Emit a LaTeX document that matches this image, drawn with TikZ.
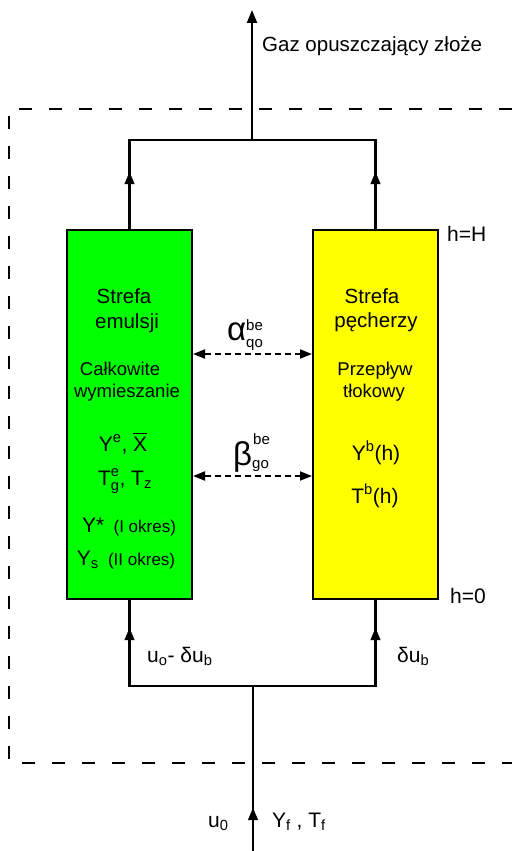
\documentclass[tikz,border=0pt]{standalone}
\usepackage{fontspec}
\usepackage{amsmath}
\setmainfont{Liberation Sans}
\usetikzlibrary{arrows.meta,decorations.markings}
\definecolor{emgreen}{RGB}{0,255,0}
\definecolor{bubyellow}{RGB}{255,255,0}
\begin{document}
\begin{tikzpicture}[x=1pt,y=-1pt,
  zone/.style={draw=black, line width=2pt, minimum width=125pt, minimum height=369pt, inner sep=0pt},
  flow/.style={line width=2.2pt, line join=miter},
  tipA/.style={-{Triangle[length=13pt,width=10pt]}},
  midtip/.style={postaction={decorate}, decoration={markings, mark=at position #1 with {\arrow{Triangle[length=12pt,width=10pt]}}}},
  xchg/.style={line width=1.8pt, dash pattern=on 6pt off 4pt, {Triangle[length=12pt,width=9pt]}-{Triangle[length=12pt,width=9pt]}},
  framed/.style={line width=1.5pt, dash pattern=on 13pt off 17pt},
  lbl/.style={anchor=base, inner sep=0pt, font=\fontsize{21}{24}\selectfont},
  zname/.style={anchor=base, inner sep=0pt, font=\fontsize{20.5}{24}\selectfont},
  zdesc/.style={anchor=base, inner sep=0pt, font=\fontsize{18.5}{22}\selectfont},
  side/.style={anchor=base west, inner sep=0pt, font=\fontsize{21}{24}\selectfont},
  grk/.style={anchor=base west, inner sep=0pt, font=\fontsize{33}{34}\selectfont},
  idx/.style={anchor=base west, inner sep=0pt, font=\fontsize{15}{16}\selectfont}]
\useasboundingbox (0,0) rectangle (512,851);

% dashed frame
\coordinate (fTR) at (512,109);
\coordinate (fTL) at (9,109);
\coordinate (fBL) at (9,763);
\coordinate (fBR) at (512,763);
\draw[framed] (fTR) -- (fTL) -- (fBL) -- (fBR);

% zones
\node[zone, fill=emgreen] (green) at (129.5,414.5) {};
\node[zone, fill=bubyellow] (yellow) at (375.5,414.5) {};

% top collector
\coordinate (TL) at (129.5,140);
\coordinate (TR) at (375.5,140);
\coordinate (TC) at (252,140);
\coordinate (topend) at (252,10);
\draw[flow] (green.north) -- (TL) -- (TR) -- (yellow.north);
\path[midtip=57pt] (green.north) -- (TL);
\path[midtip=57pt] (yellow.north) -- (TR);
\draw[flow, tipA] (TC) -- (topend);

% bottom distributor
\coordinate (BL) at (129.5,686);
\coordinate (BR) at (375.5,686);
\coordinate (BC) at (253,686);
\coordinate (botend) at (253,851);
\draw[flow] (green.south) -- (BL) -- (BR) -- (yellow.south);
\path[midtip=58pt] (BL) -- (green.south);
\path[midtip=58pt] (BR) -- (yellow.south);
\draw[flow] (botend) -- (BC);
\path[midtip=43pt] (botend) -- (BC);

% exchange arrows
\coordinate (xa) at (0,354);
\coordinate (xb) at (0,476);
\draw[xchg] (green.east |- xa) -- (yellow.west |- xa);
\draw[xchg] (green.east |- xb) -- (yellow.west |- xb);
\node[grk] (alpha) at (227,340) {α};
\node[idx] (alphasup) at (246,330.5) {be};
\node[idx] (alphasub) at (246,347.5) {qo};
\node[grk] (beta) at (233,465) {β};
\node[idx] (betasup) at (253,444) {be};
\node[idx] (betasub) at (252,468) {go};

% green texts
\node[zname] (g1) at (124,303) {Strefa};
\node[zname] (g2) at (127,328) {emulsji};
\node[zdesc] (g3) at (120,375) {Całkowite};
\node[zdesc] (g4) at (127,397) {wymieszanie};
\node[lbl] (g5) at (123,451) {$\text{Y}^{\text{e}}$, $\overline{\text{X}}$};
\node[lbl] (g6) at (125,485) {$\text{T}^{\text{e}}_{\text{g}}$, $\text{T}_{\text{z}}$};
\node[lbl] (g7) at (129,532) {Y*\, {\fontsize{17}{18}\selectfont(I okres)}};
\node[lbl] (g8) at (126,565) {$\text{Y}_{\text{s}}$\, {\fontsize{17}{18}\selectfont(II okres)}};

% yellow texts
\node[zname] (y1) at (372,303) {Strefa};
\node[zname] (y2) at (376,327) {pęcherzy};
\node[zdesc] (y3) at (375,375) {Przepływ};
\node[zdesc] (y4) at (374,397) {tłokowy};
\node[lbl] (y5) at (376,460) {$\text{Y}^{\text{b}}$(h)};
\node[lbl] (y6) at (375,503) {$\text{T}^{\text{b}}$(h)};

% side labels
\node[side] (hH) at (447,241) {h=H};
\node[side] (h0) at (450,603) {h=0};
\node[side] (ul) at (147,662) {$\text{u}_{\text{o}}$- δ$\text{u}_{\text{b}}$};
\node[side] (ur) at (397,662) {δ$\text{u}_{\text{b}}$};
\node[side] (u0) at (208,827) {$\text{u}_{\text{0}}$};
\node[side] (yf) at (272,827) {$\text{Y}_{\text{f}}$ , $\text{T}_{\text{f}}$};
\node[side, font=\fontsize{20.5}{24}\selectfont] (gaz) at (262,52) {Gaz opuszczający złoże};
\end{tikzpicture}
\end{document}
